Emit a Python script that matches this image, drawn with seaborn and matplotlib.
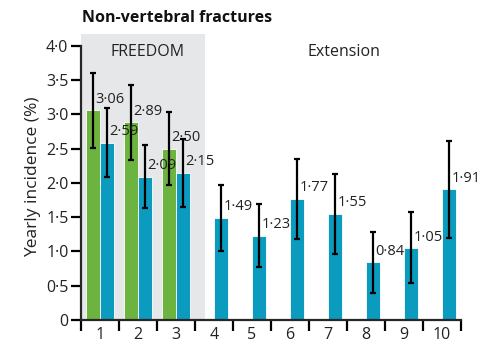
import matplotlib
matplotlib.use("Agg")
import matplotlib.pyplot as plt
import seaborn as sns
import pandas as pd
import numpy as np

# ---- data ----
years = [1, 2, 3, 4, 5, 6, 7, 8, 9, 10]
freedom_years = [1, 2, 3]
placebo_vals = [3.06, 2.89, 2.50]
placebo_lo = [2.51, 2.34, 1.97]
placebo_hi = [3.60, 3.43, 3.03]
dmab_vals = [2.59, 2.09, 2.15, 1.49, 1.23, 1.77, 1.55, 0.84, 1.05, 1.91]
dmab_lo = [2.09, 1.63, 1.65, 1.00, 0.78, 1.18, 0.97, 0.40, 0.54, 1.20]
dmab_hi = [3.09, 2.55, 2.64, 1.97, 1.69, 2.35, 2.13, 1.28, 1.57, 2.62]
yticks = [0, 0.5, 1.0, 1.5, 2.0, 2.5, 3.0, 3.5, 4.0]
ytick_labels = ["0", "0·5", "1·0", "1·5", "2·0", "2·5", "3·0", "3·5", "4·0"]

GREEN = "#6db33f"
BLUE = "#0a9bbf"
GREY = "#e6e7e8"

df = pd.DataFrame({
    "year": [str(y) for y in freedom_years] + [str(y) for y in years],
    "group": ["placebo"] * len(freedom_years) + ["denosumab"] * len(years),
    "value": placebo_vals + dmab_vals,
})
lo_map = {"placebo": placebo_lo, "denosumab": dmab_lo}
hi_map = {"placebo": placebo_hi, "denosumab": dmab_hi}
val_map = {"placebo": placebo_vals, "denosumab": dmab_vals}

sns.set_style("ticks")
plt.rcParams["font.family"] = ["Open Sans", "DejaVu Sans"]

fig = plt.figure(figsize=(4.88, 3.62), dpi=100)
ax = fig.add_axes([81 / 488, 1 - 320 / 362, (461 - 81) / 488, (320 - 34) / 362])

ax.axvspan(-0.5, 2.76, color=GREY, zorder=0, lw=0)

sns.barplot(data=df, x="year", y="value", hue="group",
            order=[str(y) for y in years], hue_order=["placebo", "denosumab"],
            palette={"placebo": GREEN, "denosumab": BLUE}, saturation=1,
            width=0.74, edgecolor="white", linewidth=0.6,
            errorbar=None, legend=False, ax=ax, zorder=2)

for cont, grp in zip(ax.containers, ["placebo", "denosumab"]):
    xs = [p.get_x() + p.get_width() / 2 for p in cont.patches]
    vals = np.array(val_map[grp])
    lo = np.array(lo_map[grp])
    hi = np.array(hi_map[grp])
    ax.errorbar(xs, vals, yerr=[vals - lo, hi - vals], fmt="none",
                ecolor="black", elinewidth=1.6, capsize=2.2, capthick=1.6, zorder=3)
    for x, v in zip(xs, vals):
        ax.text(x + 0.07, v + 0.16, f"{v:.2f}".replace(".", "·"),
                ha="left", va="center", fontsize=10.5, color="#222222", zorder=4)

ax.set_xlim(-0.5, 9.5)
ax.set_ylim(0, 4.175)

ax.set_yticks(yticks)
ax.set_yticklabels(ytick_labels, fontsize=11.5, color="#222222")
ax.set_xticks(np.arange(-0.5, 10, 1.0))
ax.set_xticklabels([])
ax.set_xticks(np.arange(0, 10, 1.0), minor=True)
ax.set_xticklabels([str(y) for y in years], minor=True, fontsize=11.5, color="#222222")
ax.tick_params(axis="x", which="major", direction="out", length=8, width=1.6, color="black")
ax.tick_params(axis="x", which="minor", length=0, pad=5)
ax.tick_params(axis="y", direction="out", length=7, width=1.6, color="black", pad=2)

for s in ["top", "right"]:
    ax.spines[s].set_visible(False)
ax.spines["left"].set_bounds(0, 4)
ax.spines["left"].set_linewidth(1.6)
ax.spines["bottom"].set_linewidth(1.6)

ax.set_xlabel("")
ax.set_ylabel("Yearly incidence (%)", fontsize=12.5, color="#222222", labelpad=4)

ax.text(1.25, 3.91, "FREEDOM", ha="center", va="center", fontsize=11.5, color="#222222")
ax.text(6.41, 3.91, "Extension", ha="center", va="center", fontsize=11.5, color="#222222")

fig.text(82 / 488, 1 - 22 / 362, "Non-vertebral fractures", ha="left", va="baseline",
         fontsize=11.5, fontweight="bold", color="#111111")

fig.savefig("out.png", dpi=100)
